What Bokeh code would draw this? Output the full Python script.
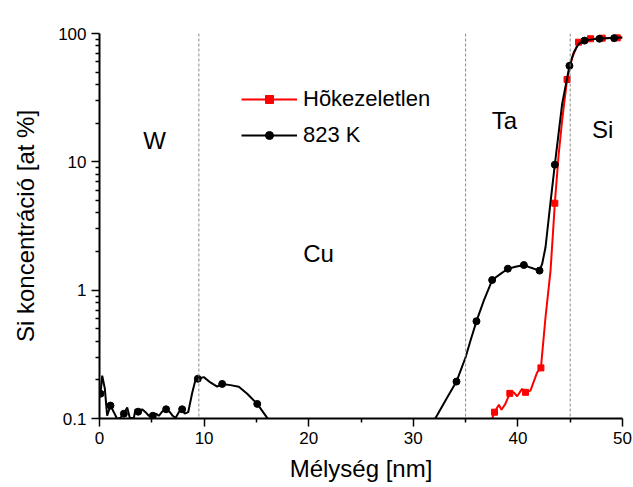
import numpy as np
from bokeh.plotting import figure
from bokeh.models import (Range1d, Span, Legend, LegendItem, FixedTicker,
                          CustomJSTickFormatter)
from bokeh.embed import file_html
from bokeh.resources import INLINE
from bokeh.core.properties import value

nan = np.nan

# ---- data ----
# 823 K (black) - line samples (NaN = below detection, gap)
k823_x = [0.0, 0.1, 0.26, 0.51, 0.73, 1.05, 1.37, 1.69, 2.0, 2.33, 2.65, 2.9, 3.28, 3.44, 3.7,
          4.08, 4.4, 4.71, 5.1, 5.42, 5.67, 5.99, 6.37, 6.69, 7.0, 7.27, 7.58, 7.9, 8.15, 8.48,
          8.86, 9.18, 9.4, 9.97, 10.6, 11.25, 11.73, 12.52, 13.32, 14.12, 15.08, 16.03, 16.5,
          24.0,
          31.8, 32.1, 33.24, 34.13, 35.0, 35.47, 36.04, 36.74, 37.54, 38.34, 39.04, 39.77, 40.57,
          41.2, 42.07, 42.32, 42.64, 43.1, 43.53, 44.23, 44.93, 45.35, 45.8, 46.37, 47.1, 47.8,
          48.5, 49.2, 50.0]
k823_y = [0.15, 0.156, 0.216, 0.171, 0.105, 0.126, 0.112, 0.099, 0.101, 0.109, 0.122, 0.101, 0.101,
          0.118, 0.113, 0.118, 0.112, 0.105, 0.105, 0.109, 0.105, 0.113, 0.118, 0.113, 0.105, 0.101,
          0.112, 0.118, 0.109, 0.112, 0.158, 0.2, 0.204, 0.21, 0.191, 0.177, 0.186, 0.182, 0.177,
          0.156, 0.13, 0.101, 0.09,
          nan,
          0.09, 0.1, 0.146, 0.194, 0.30, 0.405, 0.573, 0.83, 1.20, 1.34, 1.47, 1.52, 1.57,
          1.50, 1.42, 1.6, 2.16, 4.7, 9.5, 28.3, 56.0, 71.5, 83.0, 88.0, 90.0, 91.0,
          92.0, 92.5, 93.0]
# 823 K markers
k823_mx = [0.1, 1.05, 2.33, 3.7, 5.1, 6.37, 7.9, 9.4, 11.73, 15.08, 34.13, 36.04, 37.54,
           39.04, 40.57, 42.07, 43.53, 44.93, 46.37, 47.8, 49.2]
k823_my = [0.156, 0.126, 0.109, 0.113, 0.105, 0.118, 0.118, 0.204, 0.186, 0.13, 0.194, 0.573,
           1.20, 1.47, 1.57, 1.42, 9.5, 56.0, 88.0, 91.0, 92.0]

# Hõkezeletlen (red) - line samples
raw_x = [37.4, 37.54, 37.76, 38.18, 38.43, 38.8, 39.23, 39.6, 39.93, 40.4, 40.73, 41.2, 41.84,
         42.2, 42.64, 43.12, 43.43, 43.53, 43.9, 44.23, 44.4, 44.7, 45.2, 45.8, 46.94, 48.06,
         49.5, 50.0]
raw_y = [0.09, 0.1, 0.112, 0.128, 0.117, 0.13, 0.157, 0.16, 0.149, 0.17, 0.16, 0.165, 0.229,
         0.248, 0.615, 1.42, 3.5, 4.76, 11.5, 21.0, 27.5, 43.8, 65.3, 85.5, 91.0, 92.0,
         92.5, 93.0]
# Hõkezeletlen markers
raw_mx = [37.76, 39.23, 40.73, 42.2, 43.53, 44.7, 45.8, 46.94, 48.06, 49.5]
raw_my = [0.112, 0.157, 0.16, 0.248, 4.76, 43.8, 85.5, 91.0, 92.0, 92.5]

# layer boundaries and names
boundaries = [9.5, 35.0, 45.0]
layer_names = ["W", "Cu", "Ta", "Si"]
layer_x = [5.26, 20.94, 38.7, 48.1]
layer_y = [14.7, 1.93, 21.0, 17.9]

x_ticks = [0, 10, 20, 30, 40, 50]
x_minor = [5, 15, 25, 35, 45]
y_ticks = [0.1, 1, 10, 100]
y_minor = [m * d for d in (0.1, 1, 10) for m in range(2, 10)]

FONT = "Liberation Sans"

p = figure(width=633, height=487, output_backend="svg", toolbar_location=None,
           x_range=Range1d(0, 50), y_range=Range1d(0.1, 100), y_axis_type="log",
           min_border_left=99, min_border_right=11, min_border_top=33, min_border_bottom=69)
p.outline_line_color = None
p.xgrid.visible = False
p.ygrid.visible = False
p.background_fill_color = "white"
p.border_fill_color = "white"

for b in boundaries:
    p.add_layout(Span(location=b, dimension="height", line_color="#888888",
                      line_width=1, line_dash="3 2"))

red_line = p.line(raw_x, raw_y, line_color="#ff0000", line_width=2)
red_mk = p.scatter(raw_mx, raw_my, marker="square", size=6, color="#ff0000")
blk_line = p.line(k823_x, k823_y, line_color="black", line_width=2)
blk_mk = p.scatter(k823_mx, k823_my, marker="circle", size=7, color="black")

p.text(x=layer_x, y=layer_y, text=layer_names, text_font=value(FONT),
       text_font_size="24px", text_align="center", text_baseline="middle",
       text_color="black")

# axes
p.xaxis.ticker = FixedTicker(ticks=x_ticks, minor_ticks=x_minor)
p.yaxis.ticker = FixedTicker(ticks=y_ticks, minor_ticks=y_minor)
p.yaxis.formatter = CustomJSTickFormatter(code="return String(tick)")
p.xaxis.formatter = CustomJSTickFormatter(code="return String(tick)")
for ax in (p.xaxis[0], p.yaxis[0]):
    ax.axis_line_width = 2
    ax.axis_line_color = "black"
    ax.major_tick_line_width = 1.5
    ax.minor_tick_line_width = 1.5
    ax.major_tick_in = 0
    ax.major_tick_out = 8
    ax.minor_tick_in = 0
    ax.minor_tick_out = 4
    ax.major_label_text_font = FONT
    ax.major_label_text_font_size = "17px"
    ax.major_label_text_color = "black"
    ax.axis_label_text_font = FONT
    ax.axis_label_text_font_size = "24px"
    ax.axis_label_text_font_style = "normal"
    ax.axis_label_text_color = "black"
    ax.major_label_standoff = 5
p.xaxis.axis_label = "Mélység [nm]"
p.yaxis.axis_label = "Si koncentráció [at %]"
p.xaxis.axis_label_standoff = 8
p.yaxis.axis_label_standoff = 16

legend = Legend(items=[LegendItem(label="Hõkezeletlen", renderers=[red_line, red_mk]),
                       LegendItem(label="823 K", renderers=[blk_line, blk_mk])],
                location=(142, 270), padding=0, margin=0, spacing=10,
                glyph_width=56, glyph_height=20, label_height=20, label_standoff=6,
                label_text_font=FONT, label_text_font_size="22px",
                label_text_color="black",
                border_line_alpha=0, background_fill_alpha=0)
p.add_layout(legend)

open("out.html", "w").write(file_html(p, INLINE))
